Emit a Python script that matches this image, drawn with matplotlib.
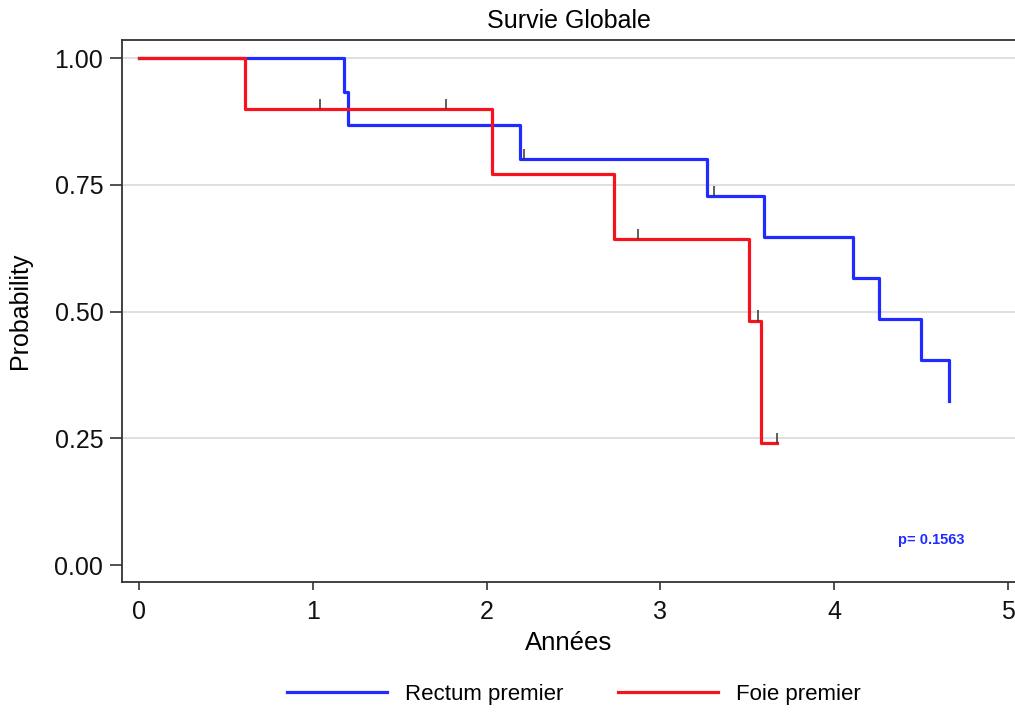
import matplotlib.pyplot as plt

plt.rcParams['font.family'] = ['Liberation Sans', 'DejaVu Sans']

# Kaplan-Meier steps (years, survival probability)
rectum_t = [0, 1.18, 1.204, 2.19, 3.266, 3.596, 4.106, 4.258, 4.497, 4.66]
rectum_s = [1.0, 0.933, 0.867, 0.800, 0.727, 0.646, 0.566, 0.485, 0.404, 0.323]
rectum_cens_t = [2.217, 3.31]
rectum_cens_s = [0.800, 0.727]

foie_t = [0, 0.61, 2.03, 2.734, 3.51, 3.578, 3.67]
foie_s = [1.0, 0.900, 0.771, 0.643, 0.482, 0.241, 0.241]
foie_cens_t = [1.04, 1.765, 2.87, 3.563, 3.67]
foie_cens_s = [0.900, 0.900, 0.643, 0.482, 0.241]

yticks = [0.00, 0.25, 0.50, 0.75, 1.00]
xticks = [0, 1, 2, 3, 4, 5]
p_text = 'p= 0.1563'

blue = '#1f2bff'
red = '#f5141e'

fig = plt.figure(figsize=(10.15, 7.12), dpi=100)
ax = fig.add_axes([0.1202, 0.1826, 0.8798, 0.7612])

for y in yticks[1:]:
    ax.axhline(y, color='#dcdcdc', lw=1.3, zorder=0)

ax.plot(rectum_t, rectum_s, drawstyle='steps-post', color=blue, lw=2.3, label='Rectum premier')
ax.plot(foie_t, foie_s, drawstyle='steps-post', color=red, lw=2.3, label='Foie premier')

# censoring ticks, drawn upward from the curve
ax.vlines(rectum_cens_t, rectum_cens_s, [s + 0.02 for s in rectum_cens_s], color='#333333', lw=1.1, zorder=3)
ax.vlines(foie_cens_t, foie_cens_s, [s + 0.02 for s in foie_cens_s], color='#333333', lw=1.1, zorder=3)

ax.set_xlim(-0.098, 5.04)
ax.set_ylim(-0.0335, 1.0355)
ax.set_xticks(xticks)
ax.set_yticks(yticks)
ax.set_yticklabels([f'{v:.2f}' for v in yticks])

for side in ['left', 'top', 'bottom']:
    ax.spines[side].set_color('#333333')
    ax.spines[side].set_linewidth(1.3)
ax.spines['right'].set_visible(False)

ax.tick_params(axis='both', labelsize=18, length=8.5, width=1.2, color='#333333', labelcolor='#111111')
ax.tick_params(axis='x', length=6, pad=7)
ax.tick_params(axis='y', pad=5)

ax.set_title('Survie Globale', fontsize=18, pad=9)
ax.set_xlabel('Années', fontsize=18.5, labelpad=5)
ax.set_ylabel('Probability', fontsize=18, labelpad=16)

ax.text(4.56, 0.049, p_text, color=blue, fontsize=10.5, fontweight='bold', ha='center', va='center')

ax.legend(loc='center', bbox_to_anchor=(0.506, -0.208), ncol=2, frameon=False, fontsize=16,
          handlelength=4.5, handletextpad=0.8, columnspacing=2.5)

plt.savefig('out.png', dpi=100, facecolor='white')
plt.close()
